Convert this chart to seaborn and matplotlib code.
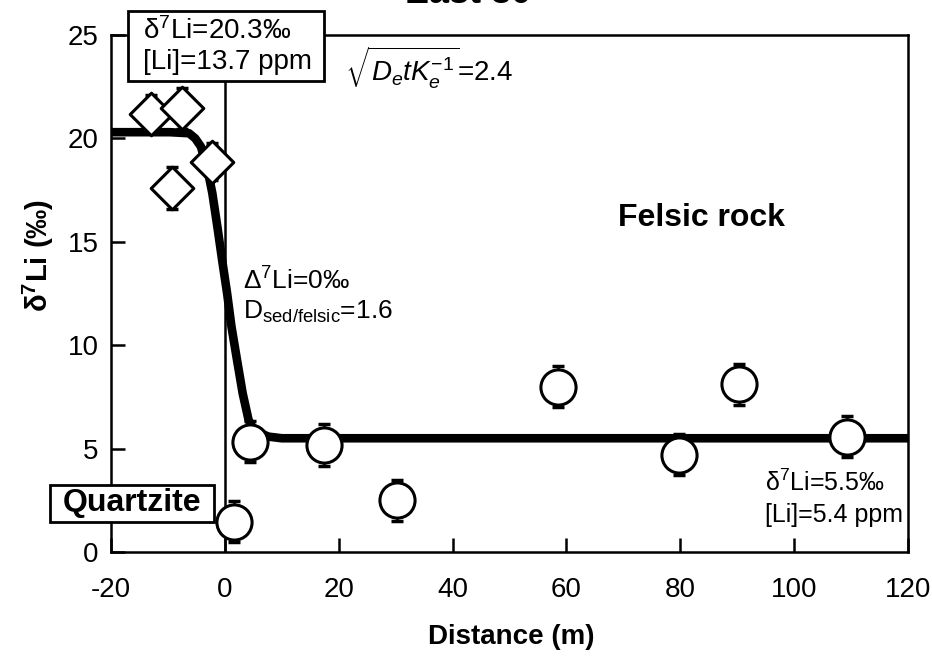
import matplotlib
matplotlib.use("Agg")
import matplotlib.pyplot as plt
import matplotlib.patches as mpatches
import seaborn as sns
import pandas as pd

# ---- data ----
quartz_x = [-13.0, -7.5, -2.2, -9.2]
quartz_y = [21.2, 21.45, 18.87, 17.6]
quartz_err = [0.9, 1.0, 0.9, 1.0]

felsic_x = [1.6, 4.5, 17.4, 30.3, 58.5, 79.8, 90.4, 109.3]
felsic_y = [1.47, 5.33, 5.17, 2.5, 8.0, 4.7, 8.1, 5.58]
felsic_err = [1.0, 1.0, 1.0, 1.0, 1.0, 1.0, 1.0, 1.0]

curve_x = [-20, -9.7, -6.3, -5.2, -4.2, -2.9, -2.2, -1.3, -0.47, 0.4, 1.16, 2.14,
           3.13, 4.17, 5.0, 5.6, 7.65, 10, 120]
curve_y = [20.3, 20.3, 20.25, 20.0, 19.6, 18.3, 17.35, 15.7, 14.1, 12.5, 10.9, 9.28,
           7.67, 6.38, 5.95, 5.82, 5.58, 5.5, 5.5]

x_ticks = [-20, 0, 20, 40, 60, 80, 100, 120]
y_ticks = [0, 5, 10, 15, 20, 25]

sns.set_style("ticks")
plt.rcParams["font.family"] = ["Liberation Sans", "DejaVu Sans"]
plt.rcParams["mathtext.fontset"] = "custom"
plt.rcParams["mathtext.rm"] = "Liberation Sans"
plt.rcParams["mathtext.it"] = "Liberation Sans:italic"
plt.rcParams["mathtext.bf"] = "Liberation Sans:bold"
plt.rcParams["axes.unicode_minus"] = False
for k in ["text.color", "axes.labelcolor", "xtick.color", "ytick.color", "axes.edgecolor"]:
    plt.rcParams[k] = "black"

W, H = 932, 656
fig = plt.figure(figsize=(W / 100, H / 100), dpi=100)
ax = fig.add_axes([111 / W, 1 - 552 / H, (908 - 111) / W, (552 - 35) / H])

# vertical boundary line
ax.axvline(0, color="black", lw=1.8, zorder=1)

# model curve
curve = pd.DataFrame({"x": curve_x, "y": curve_y})
sns.lineplot(data=curve, x="x", y="y", ax=ax, color="black", lw=6.2, sort=False,
             estimator=None, zorder=3, solid_capstyle="round", solid_joinstyle="round")

# error bars
ax.errorbar(quartz_x, quartz_y, yerr=quartz_err, fmt="none", ecolor="black",
            elinewidth=1.8, capsize=4, capthick=2.5, zorder=2)
ax.errorbar(felsic_x, felsic_y, yerr=felsic_err, fmt="none", ecolor="black",
            elinewidth=1.8, capsize=4, capthick=2.5, zorder=2)

# markers
qdf = pd.DataFrame({"x": quartz_x, "y": quartz_y})
fdf = pd.DataFrame({"x": felsic_x, "y": felsic_y})
sns.scatterplot(data=qdf, x="x", y="y", ax=ax, marker="D", s=470, color="white",
                edgecolor="black", linewidth=2.2, zorder=5)
sns.scatterplot(data=fdf, x="x", y="y", ax=ax, marker="o", s=640, color="white",
                edgecolor="black", linewidth=2.2, zorder=5)

ax.set_xlim(-20, 120)
ax.set_ylim(0, 25)
ax.set_xticks(x_ticks)
ax.set_yticks(y_ticks)
ax.tick_params(direction="in", length=10, width=1.8, labelsize=20, colors="black")
ax.tick_params(axis="x", pad=18)
ax.tick_params(axis="y", pad=9)
for s in ax.spines.values():
    s.set_linewidth(1.8)
    s.set_zorder(6)
ax.set_xlabel("")
ax.set_ylabel("")

# axis labels
fig.text(511 / W, 1 - 637 / H, "Distance (m)", ha="center", va="center",
         fontsize=20, fontweight="bold")
fig.text(38 / W, 1 - 255 / H, r"δ$^{\mathbf{7}}$Li (‰)", ha="center", va="center",
         rotation=90, fontsize=21, fontweight="bold")

# title (cut off at top, as in the reference)
fig.text(468 / W, 1 - 3 / H, "East 30", ha="center", va="baseline",
         fontsize=26, fontweight="bold")

# boxes
def fig_box(x0, y0, x1, y1):
    r = mpatches.Rectangle((x0 / W, 1 - y1 / H), (x1 - x0) / W, (y1 - y0) / H,
                           transform=fig.transFigure, facecolor="white",
                           edgecolor="black", linewidth=2, zorder=9)
    fig.add_artist(r)

fig_box(128, 11, 324, 81)
fig.text(143 / W, 1 - 31 / H, "δ$^{7}$Li=20.3‰", ha="left", va="center",
         fontsize=20, zorder=10)
fig.text(143 / W, 1 - 62 / H, "[Li]=13.7 ppm", ha="left", va="center",
         fontsize=20, zorder=10)

fig_box(50, 485, 214, 522)
fig.text(132 / W, 1 - 503 / H, "Quartzite", ha="center", va="center",
         fontsize=23, fontweight="bold", zorder=10)

fig.text(345 / W, 1 - 68 / H, r"$\sqrt{D_{e}tK_{e}^{-1}}$=2.4", ha="left", va="center",
         fontsize=20)
fig.text(701 / W, 1 - 218 / H, "Felsic rock", ha="center", va="center",
         fontsize=23, fontweight="bold")
fig.text(243 / W, 1 - 281 / H, "Δ$^{7}$Li=0‰", ha="left", va="center", fontsize=19)
fig.text(243 / W, 1 - 312 / H, r"D$_{\rm sed/felsic}$=1.6", ha="left", va="center",
         fontsize=19)
fig.text(765 / W, 1 - 483 / H, "δ$^{7}$Li=5.5‰", ha="left", va="center", fontsize=18)
fig.text(765 / W, 1 - 515 / H, "[Li]=5.4 ppm", ha="left", va="center", fontsize=18)

fig.savefig("out.png", dpi=100)
